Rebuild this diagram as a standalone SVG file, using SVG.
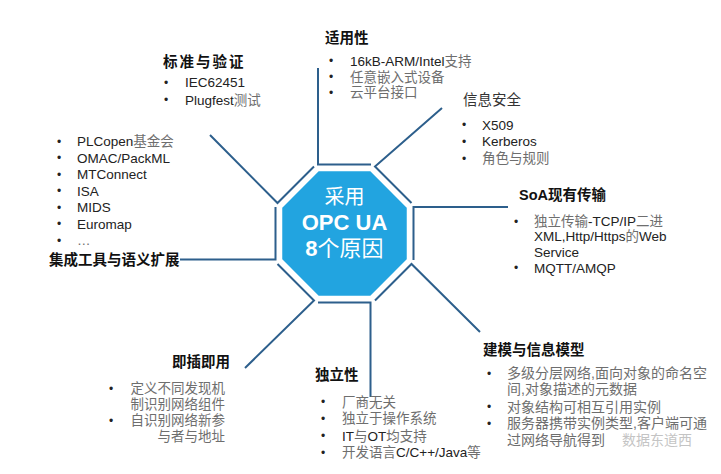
<svg xmlns="http://www.w3.org/2000/svg" width="721" height="474" viewBox="0 0 721 474">
<style>
text{font-family:"Liberation Sans","Noto Sans CJK SC",sans-serif;}
.h{font-size:14.5px;font-weight:bold;fill:#111;}
.hr{font-size:14.5px;font-weight:normal;fill:#333;}
.b{font-size:13.5px;fill:#222;}
.bl{font-size:14px;fill:#222;}
.z{fill:#6e6e6e;}
.dot{font-size:12px;fill:#222;}
.c1{font-size:20px;fill:#fff;}
.c2{font-size:22px;font-weight:bold;fill:#fff;}
.ln{fill:none;stroke:#2d5f8c;stroke-width:2;}
.wm{font-size:14px;fill:#c4c4c4;}
</style>
<rect width="721" height="474" fill="#fff"/>
<g id="connectors">
<polyline class="ln" points="318,68 318,164.5 371,164.5"/>
<polyline class="ln" points="442,108 375,166.5 411.5,203"/>
<polyline class="ln" points="508,207 413.5,207 413.5,260"/>
<polyline class="ln" points="480,332 411.5,264 375,300.5"/>
<polyline class="ln" points="370.5,397 370.5,302.5 318,302.5"/>
<polyline class="ln" points="245,368 314,300.5 277.5,264"/>
<polyline class="ln" points="180,259.5 275.5,259.5 275.5,207"/>
<polyline class="ln" points="210,135 277.5,203 314,166.5"/>
</g>
<g id="center">
<polygon points="318.4,170.5 370.6,170.5 407.5,207.4 407.5,259.6 370.6,296.5 318.4,296.5 281.5,259.6 281.5,207.4" fill="#22a4e0" stroke="#ffffff" stroke-width="1.5"/>
<text class="c1" x="344.5" y="204" text-anchor="middle">采用</text>
<text class="c2" x="344.5" y="230" text-anchor="middle">OPC UA</text>
<text class="c2" x="344.5" y="256" text-anchor="middle">8<tspan font-weight="normal">个原因</tspan></text>
</g>
<g id="n-applicability">
<text class="h" x="325" y="42.5">适用性</text>
<text class="dot" x="329" y="65">•</text>
<text class="dot" x="329" y="81">•</text>
<text class="dot" x="329" y="96.5">•</text>
<text class="b" x="350" y="66">16kB-ARM/Intel<tspan class="z">支持</tspan></text>
<text class="b z" x="350" y="81.5">任意嵌入式设备</text>
<text class="b z" x="350" y="97">云平台接口</text>
</g>
<g id="n-standard">
<text class="h" x="163" y="66.5" letter-spacing="2">标准与验证</text>
<text class="dot" x="164" y="86.5">•</text>
<text class="dot" x="164" y="104">•</text>
<text class="b" x="185" y="87">IEC62451</text>
<text class="b" x="185" y="104.5">Plugfest<tspan class="z">测试</tspan></text>
</g>
<g id="n-security">
<text class="hr" x="463" y="105">信息安全</text>
<text class="dot" x="462" y="129">•</text>
<text class="dot" x="462" y="145.5">•</text>
<text class="dot" x="462" y="162.5">•</text>
<text class="b" x="482" y="129.5">X509</text>
<text class="b" x="482" y="146">Kerberos</text>
<text class="b z" x="482" y="163">角色与规则</text>
</g>
<g id="n-soa">
<text class="h" x="519" y="200">SoA现有传输</text>
<text class="dot" x="514" y="225.5">•</text>
<text class="dot" x="514" y="272">•</text>
<text class="b" x="534" y="225.5"><tspan class="z">独立传输</tspan>-TCP/IP<tspan class="z">二进</tspan></text>
<text class="b" x="534" y="241">XML,Http/Https<tspan class="z">的</tspan>Web</text>
<text class="b" x="534" y="256.5">Service</text>
<text class="b" x="534" y="272.5">MQTT/AMQP</text>
</g>
<g id="n-integration">
<text class="h" x="49" y="265">集成工具与语义扩展</text>
<text class="dot" x="57" y="145.5">•</text>
<text class="dot" x="57" y="162">•</text>
<text class="dot" x="57" y="178.5">•</text>
<text class="dot" x="57" y="195">•</text>
<text class="dot" x="57" y="211.5">•</text>
<text class="dot" x="57" y="228">•</text>
<text class="dot" x="57" y="244.5">•</text>
<text class="b" x="77" y="146">PLCopen<tspan class="z">基金会</tspan></text>
<text class="b" x="77" y="162.5">OMAC/PackML</text>
<text class="b" x="77" y="179">MTConnect</text>
<text class="b" x="77" y="195.5">ISA</text>
<text class="b" x="77" y="212">MIDS</text>
<text class="b" x="77" y="228.5">Euromap</text>
<text class="b z" x="77" y="245">…</text>
</g>
<g id="n-modeling">
<text class="h" x="483" y="355">建模与信息模型</text>
<text class="dot" x="487" y="377.5">•</text>
<text class="dot" x="487" y="411">•</text>
<text class="dot" x="487" y="427.5">•</text>
<text class="bl z" x="507" y="378">多级分层网络,面向对象的命名空</text>
<text class="bl z" x="507" y="393.5">间,对象描述的元数据</text>
<text class="bl z" x="507" y="411.5">对象结构可相互引用实例</text>
<text class="bl z" x="507" y="428">服务器携带实例类型,客户端可通</text>
<text class="bl z" x="507" y="445">过网络导航得到</text>
<text class="wm" x="622" y="445">数据东道西</text>
</g>
<g id="n-plugplay">
<text class="h" x="230" y="366.5" text-anchor="end">即插即用</text>
<text class="dot" x="109" y="392.5">•</text>
<text class="dot" x="109" y="424.5">•</text>
<text class="b z" x="225" y="393" text-anchor="end">定义不同发现机</text>
<text class="b z" x="225" y="408.5" text-anchor="end">制识别网络组件</text>
<text class="b z" x="225" y="425" text-anchor="end">自识别网络新参</text>
<text class="b z" x="225" y="440.5" text-anchor="end">与者与地址</text>
</g>
<g id="n-independence">
<text class="h" x="315" y="380">独立性</text>
<text class="dot" x="321" y="406">•</text>
<text class="dot" x="321" y="422.5">•</text>
<text class="dot" x="321" y="440">•</text>
<text class="dot" x="321" y="456.5">•</text>
<text class="b z" x="342" y="406.5">厂商无关</text>
<text class="b z" x="342" y="423">独立于操作系统</text>
<text class="b" x="342" y="440.5">IT<tspan class="z">与</tspan>OT<tspan class="z">均支持</tspan></text>
<text class="b" x="342" y="457"><tspan class="z">开发语言</tspan>C/C++/Java<tspan class="z">等</tspan></text>
</g>
</svg>
